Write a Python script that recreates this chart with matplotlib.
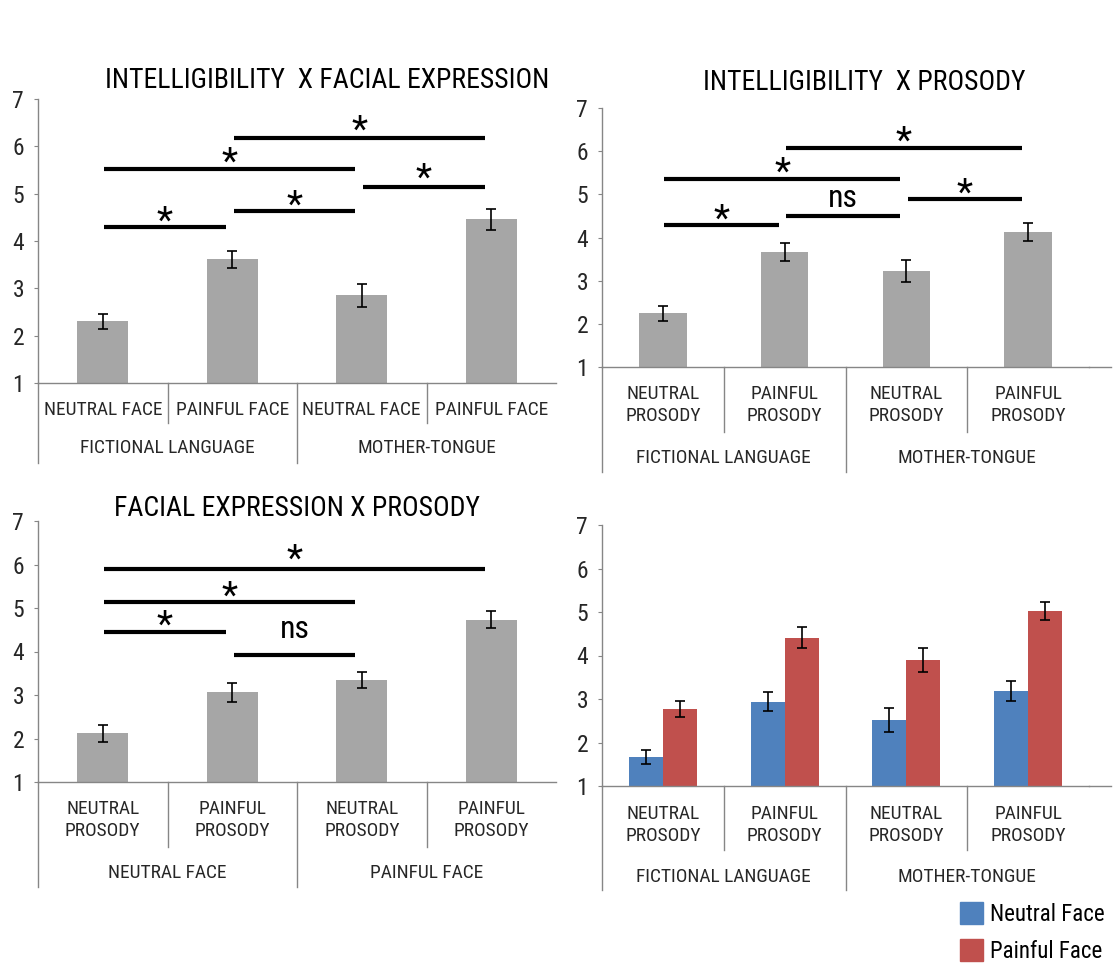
import os
import matplotlib
matplotlib.use('Agg')
import matplotlib.pyplot as plt
from matplotlib import font_manager
from matplotlib.font_manager import FontProperties
from matplotlib.patches import Patch

# pick a narrow face if one is installed, else plain Liberation Sans
files = {os.path.basename(f.fname).lower(): f.fname for f in font_manager.fontManager.ttflist}
wanted = ['liberationsansnarrow-regular.ttf', 'arialnarrow.ttf', 'notosans-condensed.ttf',
          'robotocondensed-regular.ttf', 'opensans_condensed-regular.ttf',
          'dejavusanscondensed.ttf', 'liberationsans-regular.ttf']
FP = None
for name in wanted:
    if name in files:
        FP = FontProperties(fname=files[name])
        break
if FP is None:
    FP = FontProperties(family='DejaVu Sans')

GRAY = '#A6A6A6'
BLUE = '#4F81BD'
RED = '#C0504D'
AXIS = '#868686'
TEXT = '#262626'

# Data
lang_groups = ['FICTIONAL LANGUAGE', 'MOTHER-TONGUE']
face_groups = ['NEUTRAL FACE', 'PAINFUL FACE']
face_cats = ['NEUTRAL FACE', 'PAINFUL FACE', 'NEUTRAL FACE', 'PAINFUL FACE']
prosody_cats = ['NEUTRAL\nPROSODY', 'PAINFUL\nPROSODY', 'NEUTRAL\nPROSODY', 'PAINFUL\nPROSODY']
titles = ['INTELLIGIBILITY  X FACIAL EXPRESSION', 'INTELLIGIBILITY  X PROSODY',
          'FACIAL EXPRESSION X PROSODY']
legend_labels = ['Neutral Face', 'Painful Face']

p1_values = [2.30, 3.61, 2.85, 4.46]
p1_errors = [0.15, 0.18, 0.25, 0.22]
p2_values = [2.24, 3.66, 3.22, 4.13]
p2_errors = [0.17, 0.21, 0.25, 0.21]
p3_values = [2.12, 3.06, 3.35, 4.73]
p3_errors = [0.19, 0.21, 0.19, 0.20]
p4_neutral = [1.67, 2.94, 2.52, 3.18]
p4_neutral_err = [0.16, 0.21, 0.28, 0.23]
p4_painful = [2.77, 4.41, 3.90, 5.03]
p4_painful_err = [0.18, 0.24, 0.27, 0.21]

# comparisons: (bar i, bar j, line height, label, label height)
p1_sig = [(0, 1, 4.30, '*', 4.63), (1, 2, 4.64, '*', 4.98), (2, 3, 5.15, '*', 5.54),
          (0, 2, 5.53, '*', 5.89), (1, 3, 6.18, '*', 6.56)]
p2_sig = [(0, 1, 4.30, '*', 4.67), (1, 2, 4.49, 'ns', 4.90), (2, 3, 4.90, '*', 5.26),
          (0, 2, 5.36, '*', 5.75), (1, 3, 6.08, '*', 6.48)]
p3_sig = [(0, 1, 4.44, '*', 4.85), (1, 2, 3.91, 'ns', 4.50),
          (0, 2, 5.13, '*', 5.50), (0, 3, 5.90, '*', 6.36)]

W, H = 1114, 969
fig = plt.figure(figsize=(W / 100, H / 100), dpi=100)

# scale all text so the first title is as wide as in the picture (~443 px)
r = fig.canvas.get_renderer()
probe = fig.text(0, 0, titles[0], fontproperties=FP, fontsize=20)
K = 443 / probe.get_window_extent(r).width
probe.remove()


def fs(size):
    return size * K


def fprop(size, bold=False):
    p = FP.copy()
    p.set_size(fs(size))
    if bold:
        p.set_weight('bold')
    return p


def add_axes(left, right, top, bottom):
    return fig.add_axes([left / W, 1 - bottom / H, (right - left) / W, (bottom - top) / H])


def style(ax, cats, groups, label_px, inner_px, outer_px, group_px, right_extra=0.0):
    ax.set_xlim(-0.5, 3.5)
    ax.set_ylim(1, 7)
    ax.set_yticks(range(1, 8))
    ax.set_xticks([])
    for s in ['top', 'right']:
        ax.spines[s].set_visible(False)
    for s in ['left', 'bottom']:
        ax.spines[s].set_color(AXIS)
        ax.spines[s].set_linewidth(1.0)
    ax.tick_params(axis='y', colors=AXIS, labelcolor=TEXT, length=3, pad=7)
    for lbl in ax.get_yticklabels():
        lbl.set_fontproperties(fprop(17))
    h = ax.get_position().height * H
    tr = ax.get_xaxis_transform()
    kw = dict(transform=tr, clip_on=False, color=AXIS, lw=1.0)
    ax.plot([-0.5, -0.5], [0, -outer_px / h], **kw)
    ax.plot([1.5, 1.5], [0, -outer_px / h], **kw)
    for x in [0.5, 2.5]:
        ax.plot([x, x], [0, -inner_px / h], **kw)
    if right_extra:
        # baseline runs on a little past the last category
        ax.plot([3.5, 3.5 + right_extra], [0, 0], **kw)
    for i, c in enumerate(cats):
        ax.text(i, -label_px / h, c, transform=tr, ha='center', va='center',
                fontproperties=fprop(14), color=TEXT, linespacing=1.35)
    for x, g in zip([0.5, 2.5], groups):
        ax.text(x, -group_px / h, g, transform=tr, ha='center', va='center',
                fontproperties=fprop(14), color=TEXT)


def sig_bars(ax, sig):
    for i, j, y, lab, ly in sig:
        x0, x1 = i + 0.01, j - 0.05
        ax.plot([x0, x1], [y, y], color='black', lw=3, solid_capstyle='butt')
        if lab == '*':
            ax.annotate(lab, ((x0 + x1) / 2, ly), xytext=(0, -15), textcoords='offset points',
                        ha='center', va='baseline', fontproperties=fprop(27, True), color='black')
        else:
            ax.annotate(lab, ((x0 + x1) / 2, ly), xytext=(0, -6), textcoords='offset points',
                        ha='center', va='baseline', fontproperties=fprop(23), color='black')


def gray_bars(ax, values, errors):
    x = range(len(values))
    ax.bar(x, [v - 1 for v in values], bottom=1, width=0.39, color=GRAY, zorder=2)
    ax.errorbar(x, values, yerr=errors, fmt='none', ecolor='black', elinewidth=1.2,
                capsize=3.5, capthick=1.2, zorder=3)


# Panel 1
ax1 = add_axes(38, 556, 99, 383)
gray_bars(ax1, p1_values, p1_errors)
sig_bars(ax1, p1_sig)
style(ax1, face_cats, lang_groups, 27, 40, 80, 65)
fig.text(327 / W, 1 - 81 / H, titles[0], ha='center', va='center',
         fontproperties=fprop(20), color='black')

# Panel 2
ax2 = add_axes(602, 1089, 108, 367)
gray_bars(ax2, p2_values, p2_errors)
sig_bars(ax2, p2_sig)
style(ax2, prosody_cats, lang_groups, 38, 65, 105, 91, right_extra=0.18)
fig.text(864 / W, 1 - 83 / H, titles[1], ha='center', va='center',
         fontproperties=fprop(20), color='black')

# Panel 3
ax3 = add_axes(38, 556, 521, 782)
gray_bars(ax3, p3_values, p3_errors)
sig_bars(ax3, p3_sig)
style(ax3, prosody_cats, face_groups, 38, 65, 105, 91)
fig.text(297 / W, 1 - 508 / H, titles[2], ha='center', va='center',
         fontproperties=fprop(20), color='black')

# Panel 4
ax4 = add_axes(602, 1089, 525, 786)
x = range(len(p4_neutral))
ax4.bar([i - 0.14 for i in x], [v - 1 for v in p4_neutral], bottom=1, width=0.28,
        color=BLUE, zorder=2)
ax4.bar([i + 0.14 for i in x], [v - 1 for v in p4_painful], bottom=1, width=0.28,
        color=RED, zorder=2)
ax4.errorbar([i - 0.14 for i in x], p4_neutral, yerr=p4_neutral_err, fmt='none',
             ecolor='black', elinewidth=1.2, capsize=3.5, capthick=1.2, zorder=3)
ax4.errorbar([i + 0.14 for i in x], p4_painful, yerr=p4_painful_err, fmt='none',
             ecolor='black', elinewidth=1.2, capsize=3.5, capthick=1.2, zorder=3)
style(ax4, prosody_cats, lang_groups, 39, 64, 104, 91, right_extra=0.18)

fig.legend(handles=[Patch(color=BLUE), Patch(color=RED)], labels=legend_labels,
           loc='upper left', bbox_to_anchor=(960 / W, 1 - 902 / H), frameon=False,
           prop=fprop(16.5), handlelength=1.0, handleheight=1.1, handletextpad=0.3,
           labelspacing=0.6, borderpad=0, borderaxespad=0)

fig.savefig('out.png', dpi=100)
